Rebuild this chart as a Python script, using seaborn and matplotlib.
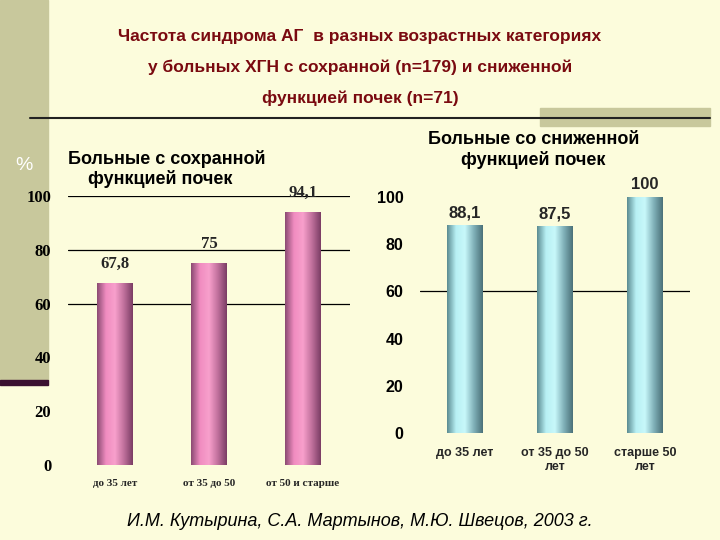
import numpy as np
import matplotlib
matplotlib.use('Agg')
import matplotlib.pyplot as plt
import seaborn as sns
from matplotlib.colors import LinearSegmentedColormap

# data
categories_left = ['до 35 лет', 'от 35 до 50', 'от 50 и старше']
values_left = [67.8, 75, 94.1]
labels_left = ['67,8', '75', '94,1']
categories_right = ['до 35 лет', 'от 35 до 50\nлет', 'старше 50\nлет']
values_right = [88.1, 87.5, 100]
labels_right = ['88,1', '87,5', '100']
yticks = [0, 20, 40, 60, 80, 100]

bg = '#FCFCDC'
sns.set_style('white')
fig = plt.figure(figsize=(7.2, 5.4), dpi=100, facecolor=bg)

# decorations
fig.patches.append(plt.Rectangle((0, 1 - 380 / 540), 48 / 720, 380 / 540, transform=fig.transFigure,
                                 color='#C8C89C', zorder=-2))
fig.patches.append(plt.Rectangle((0, 1 - 385 / 540), 48 / 720, 5 / 540, transform=fig.transFigure,
                                 color='#3A1030', zorder=-1))
fig.patches.append(plt.Rectangle((540 / 720, 1 - 126 / 540), 170 / 720, 18 / 540, transform=fig.transFigure,
                                 color='#C8C89C', zorder=-2))
fig.lines.append(plt.Line2D([30 / 720, 710 / 720], [1 - 118 / 540] * 2, transform=fig.transFigure,
                            color='#222222', lw=1.5, zorder=-1))

for y, t in [(36, 'Частота синдрома АГ  в разных возрастных категориях'),
             (67, 'у больных ХГН с сохранной (n=179) и сниженной'),
             (98, 'функцией почек (n=71)')]:
    fig.text(0.5, 1 - y / 540, t, ha='center', va='center', fontsize=12.5, fontweight='bold',
             color='#7A0A10', family='Liberation Sans')
fig.text(0.5, 1 - 522 / 540, 'И.М. Кутырина, С.А. Мартынов, М.Ю. Швецов, 2003 г.', ha='center', va='center',
         fontsize=13, style='italic', color='black', family='Liberation Sans')
fig.text(24 / 720, 1 - 165 / 540, '%', ha='center', va='center', fontsize=14, color='white', family='Liberation Sans')


def gradient_bars(ax, cmap):
    grad = np.linspace(0, 1, 256).reshape(1, -1)
    for p in list(ax.patches):
        x, y = p.get_xy()
        w, h = p.get_width(), p.get_height()
        p.set_alpha(0)
        im = ax.imshow(grad, extent=[x, x + w, y, y + h], aspect='auto', cmap=cmap, zorder=3)
        im.set_clip_path(p)


pink = LinearSegmentedColormap.from_list('pink', ['#8A4A72', '#F08CC0', '#F8A0CC', '#C0709C', '#7A3C64'])
teal = LinearSegmentedColormap.from_list('teal', ['#5A8A90', '#B8F0F4', '#C8F8FA', '#80B0B8', '#4A7078'])

# left panel
axl = fig.add_axes([68 / 720, 1 - 465 / 540, 282 / 720, 269 / 540])
axl.set_facecolor('none')
sns.barplot(x=categories_left, y=values_left, ax=axl, width=0.38, color='#E890C0')
axl.set_xlim(-0.5, 2.5)
axl.set_ylim(0, 100)
for g in [60, 80, 100]:
    axl.axhline(g, color='black', lw=0.9, zorder=1)
gradient_bars(axl, pink)
for i, (v, t) in enumerate(zip(values_left, labels_left)):
    axl.text(i, v + 4, t, ha='center', va='bottom', fontsize=12, fontweight='bold', family='Liberation Serif')
axl.set_yticks(yticks)
axl.set_yticklabels([str(t) for t in yticks], fontsize=12, fontweight='bold', family='Liberation Serif',
                    color='black')
axl.tick_params(axis='y', pad=12, length=0)
axl.tick_params(axis='x', length=0, pad=10)
for lab in axl.get_xticklabels():
    lab.set_fontsize(8)
    lab.set_fontweight('bold')
    lab.set_family('Liberation Serif')
sns.despine(ax=axl, left=True, bottom=True)
axl.text(0.0, 1.1, 'Больные с сохранной\n    функцией почек', transform=axl.transAxes, fontsize=13,
         fontweight='bold', family='Liberation Sans', va='center', ha='left', color='black')

# right panel
axr = fig.add_axes([420 / 720, 1 - 433 / 540, 270 / 720, 236 / 540])
axr.set_facecolor('none')
sns.barplot(x=categories_right, y=values_right, ax=axr, width=0.39, color='#90D0D8')
axr.set_xlim(-0.5, 2.5)
axr.set_ylim(0, 100)
axr.axhline(60, color='black', lw=0.9, zorder=1)
gradient_bars(axr, teal)
for i, (v, t) in enumerate(zip(values_right, labels_right)):
    axr.text(i, v + 2, t, ha='center', va='bottom', fontsize=12, fontweight='bold', family='Liberation Sans')
axr.set_yticks(yticks)
axr.set_yticklabels([str(t) for t in yticks], fontsize=11.5, fontweight='bold', family='Liberation Sans',
                    color='black')
axr.tick_params(axis='y', pad=12, length=0)
axr.tick_params(axis='x', length=0, pad=10)
for lab in axr.get_xticklabels():
    lab.set_fontsize(9)
    lab.set_fontweight('bold')
    lab.set_family('Liberation Sans')
sns.despine(ax=axr, left=True, bottom=True)
axr.text(0.42, 1.2, 'Больные со сниженной\nфункцией почек', transform=axr.transAxes, fontsize=13,
         fontweight='bold', family='Liberation Sans', va='center', ha='center', color='black')

fig.savefig('out.png', dpi=100, facecolor=bg)
